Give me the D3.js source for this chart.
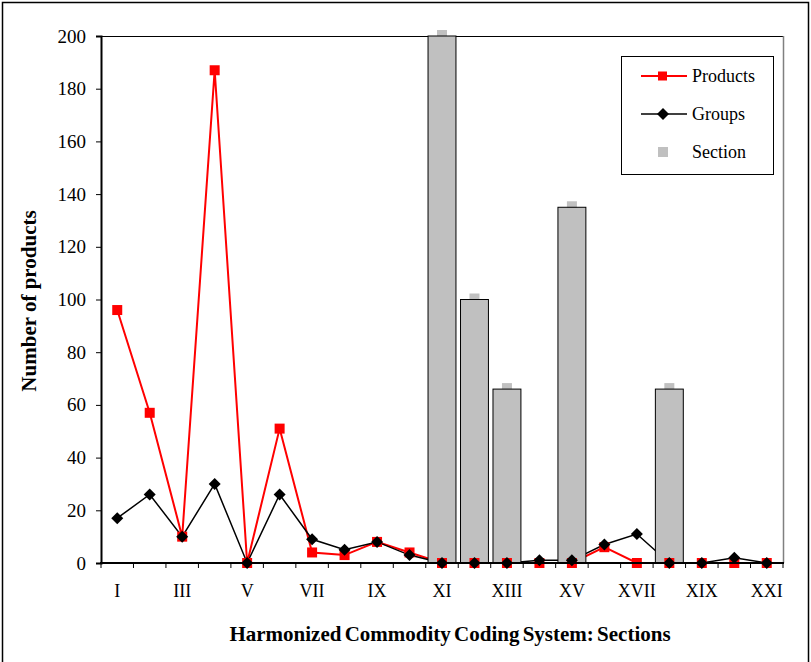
<!DOCTYPE html>
<html>
<head>
<meta charset="utf-8">
<script src="https://cdn.jsdelivr.net/npm/d3@7"></script>
<style>
  html, body { margin: 0; padding: 0; background: #fff; }
  svg { display: block; }
  svg text { font-family: "Liberation Serif", "Times New Roman", serif; fill: #000; }
</style>
</head>
<body>
<svg id="chart" width="811" height="662"></svg>
<script>
// Harmonized System sections I..XXI
const categories = ["I","II","III","IV","V","VI","VII","VIII","IX","X","XI",
                    "XII","XIII","XIV","XV","XVI","XVII","XVIII","XIX","XX","XXI"];
// Only every other section gets a tick label
const tickLabels = ["I","III","V","VII","IX","XI","XIII","XV","XVII","XIX","XXI"];
const productsValues = [96, 57, 10, 187, 0, 51, 4, 3, 8, 4, 0,
                        0, 0, 0, 0, 6, 0, 0, 0, 0, 0];
const groupsValues   = [17, 26, 10, 30, 0, 26, 9, 5, 8, 3, 0,
                        0, 0, 1, 1, 7, 11, 0, 0, 2, 0];
const sectionValues  = [0, 0, 0, 0, 0, 0, 0, 0, 0, 0, 200,
                        100, 66, 0, 135, 0, 0, 66, 0, 0, 0];
const yTicks = [0, 20, 40, 60, 80, 100, 120, 140, 160, 180, 200];

const serif = "Liberation Serif";
const svg = d3.select("#chart");
const plot = { left: 101, right: 783, top: 36, bottom: 563 };

const x = d3.scaleBand().domain(categories).range([plot.left, plot.right]).padding(0);
const y = d3.scaleLinear().domain([0, 200]).range([plot.bottom, plot.top]);
const bw = x.bandwidth();
const cx = c => x(c) + bw / 2;

// outer chart frame
svg.append("rect")
  .attr("x", 2.5).attr("y", 2.5).attr("width", 806).attr("height", 670)
  .attr("fill", "none").attr("stroke", "#000").attr("stroke-width", 1.5);

// plot area border (top and right)
svg.append("line").attr("x1", plot.left).attr("x2", plot.right)
  .attr("y1", plot.top + 0.5).attr("y2", plot.top + 0.5)
  .attr("stroke", "#000").attr("stroke-width", 1);
svg.append("line").attr("x1", plot.right + 0.5).attr("x2", plot.right + 0.5)
  .attr("y1", plot.top).attr("y2", plot.bottom)
  .attr("stroke", "#808080").attr("stroke-width", 1.5);

const sectionData = categories.map((c, i) => ({ c, v: sectionValues[i] })).filter(d => d.v > 0);
const barW = bw * 0.86;

// Section markers (sit behind the bars, peeking out above)
svg.append("g").selectAll("rect").data(sectionData).join("rect")
  .attr("x", d => cx(d.c) - 5).attr("y", d => y(d.v) - 6)
  .attr("width", 10).attr("height", 10)
  .attr("fill", "#c0c0c0");

// series lines
const line = d3.line().x(d => cx(d.c)).y(d => y(d.v));
const prodData = categories.map((c, i) => ({ c, v: productsValues[i] }));
const grpData = categories.map((c, i) => ({ c, v: groupsValues[i] }));

svg.append("path").datum(prodData).attr("d", line)
  .attr("fill", "none").attr("stroke", "#ff0000").attr("stroke-width", 2);
svg.append("path").datum(grpData).attr("d", line)
  .attr("fill", "none").attr("stroke", "#000").attr("stroke-width", 1.5);

// Section bars
svg.append("g").selectAll("rect").data(sectionData).join("rect")
  .attr("x", d => cx(d.c) - barW / 2).attr("y", d => y(d.v))
  .attr("width", barW).attr("height", d => y(0) - y(d.v))
  .attr("fill", "#c0c0c0").attr("stroke", "#000").attr("stroke-width", 1);

// Products markers (squares)
svg.append("g").selectAll("rect").data(prodData).join("rect")
  .attr("x", d => cx(d.c) - 5).attr("y", d => y(d.v) - 5)
  .attr("width", 10).attr("height", 10).attr("fill", "#ff0000");

// Groups markers (diamonds)
const diamond = "M0,-6L6,0L0,6L-6,0Z";
svg.append("g").selectAll("path").data(grpData).join("path")
  .attr("transform", d => `translate(${cx(d.c)},${y(d.v)})`)
  .attr("d", diamond).attr("fill", "#000");

// y axis
const yAxis = d3.axisLeft(y).tickValues(yTicks).tickSize(5).tickPadding(10);
const gy = svg.append("g").attr("transform", `translate(${plot.left},0)`).call(yAxis)
  .attr("font-family", serif).attr("font-size", 19);
gy.select(".domain").attr("stroke-width", 2);
gy.selectAll("text").attr("font-size", 19).attr("font-family", serif).attr("fill", "#000");

// x axis: ticks at section boundaries, labels at odd sections
const gx = svg.append("g");
gx.append("line").attr("x1", plot.left - 1).attr("x2", plot.right + 1)
  .attr("y1", plot.bottom).attr("y2", plot.bottom)
  .attr("stroke", "#000").attr("stroke-width", 2);
const bounds = categories.map(c => x(c)).concat([plot.right]);
gx.selectAll("line.tick").data(bounds).join("line").attr("class", "tick")
  .attr("x1", d => d).attr("x2", d => d)
  .attr("y1", plot.bottom).attr("y2", plot.bottom + 5)
  .attr("stroke", "#000").attr("stroke-width", 1);
gx.selectAll("text").data(tickLabels).join("text")
  .attr("x", d => cx(d)).attr("y", 597)
  .attr("text-anchor", "middle").attr("font-size", 18).attr("font-family", serif).text(d => d);

// axis titles
svg.append("text")
  .attr("x", 450).attr("y", 641)
  .attr("text-anchor", "middle").attr("font-size", 21).attr("font-weight", "bold")
  .attr("font-family", serif).attr("word-spacing", -2)
  .text("Harmonized Commodity Coding System: Sections");
svg.append("text")
  .attr("transform", "translate(36,301) rotate(-90)")
  .attr("text-anchor", "middle").attr("font-size", 21).attr("font-weight", "bold")
  .attr("font-family", serif)
  .text("Number of products");

// legend
const lg = svg.append("g");
lg.append("rect").attr("x", 621.5).attr("y", 56.5).attr("width", 152).attr("height", 118)
  .attr("fill", "#fff").attr("stroke", "#000").attr("stroke-width", 1);
const legendItems = [
  { name: "Products", y: 76, kind: "square" },
  { name: "Groups", y: 114, kind: "diamond" },
  { name: "Section", y: 152, kind: "section" }
];
legendItems.forEach(it => {
  if (it.kind === "square") {
    lg.append("line").attr("x1", 641).attr("x2", 687).attr("y1", it.y).attr("y2", it.y)
      .attr("stroke", "#ff0000").attr("stroke-width", 2);
    lg.append("rect").attr("x", 658).attr("y", it.y - 4.5).attr("width", 9).attr("height", 9)
      .attr("fill", "#ff0000");
  } else if (it.kind === "diamond") {
    lg.append("line").attr("x1", 641).attr("x2", 687).attr("y1", it.y).attr("y2", it.y)
      .attr("stroke", "#000").attr("stroke-width", 1.5);
    lg.append("path").attr("transform", `translate(663,${it.y})`).attr("d", diamond).attr("fill", "#000");
  } else {
    lg.append("rect").attr("x", 658).attr("y", it.y - 5).attr("width", 10).attr("height", 10)
      .attr("fill", "#c0c0c0");
  }
  lg.append("text").attr("x", 692).attr("y", it.y + 6)
    .attr("font-size", 18).attr("font-family", serif).text(it.name);
});
</script>
</body>
</html>
